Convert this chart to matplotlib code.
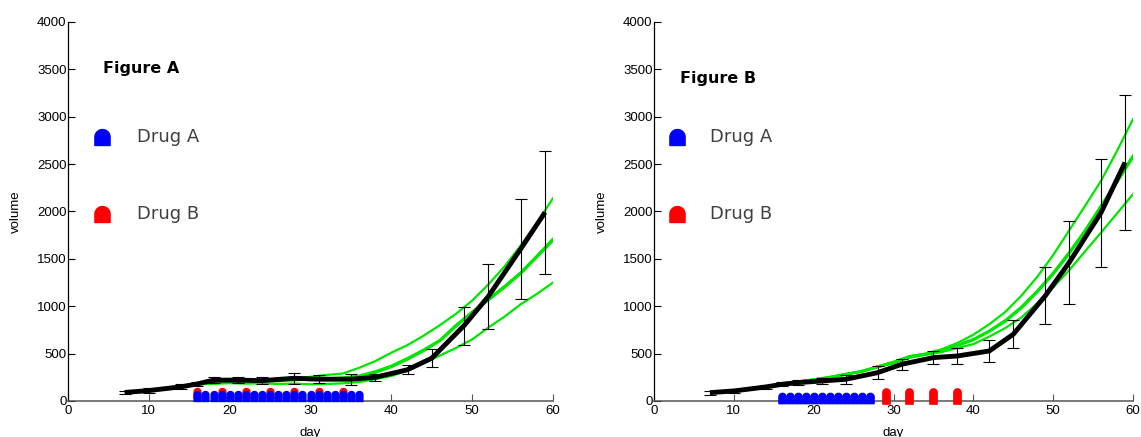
import matplotlib
matplotlib.use("Agg")
import numpy as np
import matplotlib.pyplot as plt
from matplotlib.path import Path

# measured days and mean volume (black line), with error bars
days = [7, 10, 14, 16, 18, 21, 24, 28, 31, 35, 38, 42, 45, 49, 52, 56, 59]

vol_a = [90, 110, 150, 180, 220, 220, 215, 240, 230, 230, 250, 330, 452, 796, 1104, 1605, 1990]
err_a = [20, 25, 25, 20, 35, 35, 40, 60, 40, 60, 40, 50, 95, 200, 345, 530, 650]

vol_b = [88, 106, 148, 176, 194, 211, 229, 299, 387, 458, 475, 528, 704, 1109, 1461, 1989, 2517]
err_b = [20, 20, 25, 20, 30, 30, 45, 70, 60, 65, 80, 120, 150, 300, 440, 570, 710]

# model curves (green), sampled every 2 days from day 16 to 60
sim_days = list(range(16, 61, 2))

sim_a_top = [185, 205, 200, 220, 210, 230, 240, 255, 275, 290, 350, 420, 510, 590, 690,
             800, 920, 1060, 1230, 1420, 1640, 1880, 2140]
sim_a_mid1 = [180, 195, 200, 210, 205, 220, 220, 235, 235, 245, 265, 310, 370, 450, 540,
              640, 800, 940, 1074, 1210, 1355, 1530, 1710]
sim_a_mid2 = [178, 190, 205, 200, 210, 212, 228, 225, 240, 235, 260, 300, 360, 440, 530,
              635, 790, 930, 1065, 1200, 1345, 1520, 1695]
sim_a_low = [175, 182, 188, 184, 186, 180, 184, 176, 180, 186, 200, 230, 264, 320, 400,
             480, 560, 650, 775, 890, 1021, 1130, 1250]

sim_b_top = [185, 205, 228, 250, 282, 312, 362, 412, 472, 500, 545, 612, 700, 810, 940,
             1110, 1310, 1540, 1800, 2060, 2324, 2640, 2975]
sim_b_mid1 = [180, 200, 225, 252, 280, 315, 360, 410, 465, 495, 525, 590, 650, 740, 850,
              990, 1160, 1350, 1567, 1800, 2060, 2320, 2588]
sim_b_mid2 = [182, 202, 222, 248, 284, 310, 364, 405, 470, 490, 530, 585, 645, 735, 840,
              980, 1150, 1340, 1555, 1790, 2050, 2310, 2575]
sim_b_low = [180, 198, 222, 248, 278, 312, 355, 400, 455, 490, 515, 560, 600, 680, 770,
             880, 1030, 1200, 1380, 1580, 1778, 1980, 2183]

# dosing days
drug_a_days_A = list(range(16, 37))
drug_b_days_A = list(range(16, 35, 3))
drug_a_days_B = list(range(16, 28))
drug_b_days_B = [29, 32, 35, 38]

GREEN = "#00e600"


def dome(w, h):
    # rounded top, flat bottom marker shape centred on the origin
    r = w / 2.0
    t = np.linspace(0, np.pi, 20)
    top = np.column_stack([r * np.cos(t), h / 2.0 - r + r * np.sin(t)])
    verts = np.vstack([top, [[-r, -h / 2.0], [r, -h / 2.0], [r, h / 2.0 - r]]])
    return Path(verts, closed=True)


def draw_panel(ax, vol, err, sims, drug_a, drug_b, red_tall, title, title_pos, legend_x, text_x):
    for i, s in enumerate(sims):
        lw = 2.0 if i in (1, 2) else 1.6
        ax.plot(sim_days, s, color=GREEN, lw=lw, zorder=2)
    ax.plot(days, vol, color="black", lw=3.5, zorder=3, solid_capstyle="butt")
    ax.errorbar(days, vol, yerr=err, fmt="none", ecolor="black", elinewidth=0.8,
                capsize=4, capthick=0.8, zorder=4)

    # dosing markers along the bottom
    if red_tall:
        ax.plot(drug_b, [50] * len(drug_b), ls="none", marker=dome(0.48, 1.0), ms=11,
                color="red", clip_on=False, zorder=5)
        ax.plot(drug_a, [35] * len(drug_a), ls="none", marker=dome(0.7, 1.0), ms=7.4,
                color="blue", clip_on=False, zorder=5)
    else:
        ax.plot(drug_b, [85] * len(drug_b), ls="none", marker=dome(0.68, 1.0), ms=7.2,
                color="red", clip_on=False, zorder=5)
        ax.plot(drug_a, [48] * len(drug_a), ls="none", marker=dome(0.68, 1.0), ms=7.2,
                color="blue", clip_on=False, zorder=6)

    # hand drawn legend
    ax.plot([legend_x], [2790], marker=dome(0.95, 1.0), ms=11.5, color="blue", ls="none")
    ax.plot([legend_x], [1975], marker=dome(0.95, 1.0), ms=11.5, color="red", ls="none")
    ax.text(text_x, 2790, "Drug A", fontsize=13, color="#404040", va="center", ha="left")
    ax.text(text_x, 1975, "Drug B", fontsize=13, color="#404040", va="center", ha="left")
    ax.text(title_pos[0], title_pos[1], title, fontsize=11.5, fontweight="bold",
            va="center", ha="left")

    ax.set_xlim(0, 60)
    ax.set_ylim(0, 4000)
    ax.set_xticks(range(0, 61, 10))
    ax.set_yticks(range(0, 4001, 500))
    ax.spines["top"].set_visible(False)
    ax.spines["right"].set_visible(False)
    ax.spines["left"].set_linewidth(0.9)
    ax.spines["bottom"].set_color("#555555")
    ax.spines["bottom"].set_linewidth(1.1)
    ax.tick_params(direction="in", length=5, width=0.8, labelsize=9.5, pad=1)
    ax.tick_params(axis="x", colors="#555555", labelcolor="black", pad=3)
    ax.set_xlabel("day", fontsize=9.5, labelpad=7)
    ax.set_ylabel("volume", fontsize=9.5, labelpad=11)


plt.rcParams["font.family"] = ["Liberation Sans", "DejaVu Sans"]

fig = plt.figure(figsize=(11.41, 4.37), dpi=100)
ax1 = fig.add_axes([0.0596, 0.0824, 0.4251, 0.8673])
ax2 = fig.add_axes([0.5732, 0.0824, 0.4198, 0.8673])

draw_panel(ax1, vol_a, err_a, [sim_a_top, sim_a_mid1, sim_a_mid2, sim_a_low],
           drug_a_days_A, drug_b_days_A, False, "Figure A", (4.3, 3514), 4.2, 8.5)
draw_panel(ax2, vol_b, err_b, [sim_b_top, sim_b_mid1, sim_b_mid2, sim_b_low],
           drug_a_days_B, drug_b_days_B, True, "Figure B", (3.3, 3400), 2.9, 7.0)

for t in ax1.texts + ax2.texts:
    t.set_fontfamily("DejaVu Sans")

fig.savefig("out.png", dpi=100)
